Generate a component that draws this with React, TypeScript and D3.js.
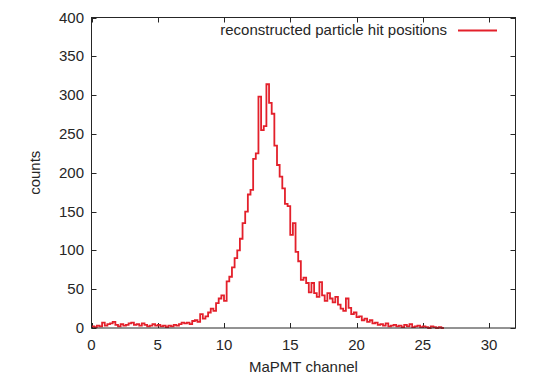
import React from "react";
import * as d3 from "d3";

// histogram bins: start of each bin in MaPMT channel units, width 0.2
const binWidth = 0.2;
const counts = [
  2, 1, 3, 2, 7, 3, 5, 6, 8, 4,
  2, 5, 3, 4, 6, 7, 4, 5, 3, 6,
  4, 2, 3, 5, 3, 4, 2, 3, 1, 3,
  2, 4, 3, 5, 7, 6, 7, 5, 9, 10,
  8, 18, 12, 15, 20, 25, 22, 32, 38, 42,
  35, 60, 66, 78, 90, 100, 115, 135, 150, 172,
  178, 218, 225, 298, 255, 260, 314, 290, 276, 235,
  210, 195, 180, 160, 157, 120, 135, 98, 86, 62,
  65, 58, 46, 58, 45, 40, 59, 42, 35, 45,
  38, 33, 40, 30, 25, 22, 38, 26, 18, 20,
  14, 15, 10, 12, 8, 10, 6, 7, 4, 5,
  3, 6, 2, 3, 4, 2, 3, 1, 4, 2,
  5, 1, 2, 3, 1, 2, 1, 0, 2, 1,
  0, 1, 0,
];

const xTicks = [0, 5, 10, 15, 20, 25, 30];
const yTicks = [0, 50, 100, 150, 200, 250, 300, 350, 400];
const seriesLabel = "reconstructed particle hit positions";
const xTitle = "MaPMT channel";
const yTitle = "counts";

const W = 538;
const H = 377;
const margin = { left: 91.5, right: 22.5, top: 17.5, bottom: 49 };
const font = "'Liberation Sans', Arial, sans-serif";
const ink = "#262626";
const red = "#e3202b";

export default function App() {
  const x = d3.scaleLinear().domain([0, 32]).range([margin.left, W - margin.right]);
  const y = d3.scaleLinear().domain([0, 400]).range([H - margin.bottom, margin.top]);

  const pts: [number, number][] = counts.map((c, i) => [i * binWidth, c]);
  pts.push([counts.length * binWidth, counts[counts.length - 1]]);

  const line = d3
    .line<[number, number]>()
    .x(d => x(d[0]))
    .y(d => y(d[1]))
    .curve(d3.curveStepAfter);

  const tick = 5;
  const [x0, x1] = x.range();
  const [y0, y1] = y.range();

  return (
    <svg width={W} height={H} style={{ position: "absolute", left: 0, top: 0 }}>
      <rect width={W} height={H} fill="#fff" />
      <g stroke={ink} strokeWidth={1}>
        {xTicks.map(t => (
          <g key={"x" + t}>
            <line x1={Math.round(x(t)) + 0.5} x2={Math.round(x(t)) + 0.5} y1={y0} y2={y0 - tick} />
            <line x1={Math.round(x(t)) + 0.5} x2={Math.round(x(t)) + 0.5} y1={y1} y2={y1 + tick} />
          </g>
        ))}
        {yTicks.map(t => (
          <g key={"y" + t}>
            <line x1={x0} x2={x0 + tick} y1={Math.round(y(t)) + 0.5} y2={Math.round(y(t)) + 0.5} />
            <line x1={x1} x2={x1 - tick} y1={Math.round(y(t)) + 0.5} y2={Math.round(y(t)) + 0.5} />
          </g>
        ))}
      </g>
      <path d={line(pts) || ""} fill="none" stroke={red} strokeWidth={1.8} />
      <rect x={x0} y={y1} width={x1 - x0} height={y0 - y1} fill="none" stroke={ink} strokeWidth={1} />
      <g fontFamily={font} fontSize={15} fill={ink}>
        {xTicks.map(t => (
          <text key={"xl" + t} x={x(t)} y={y0 + 22} textAnchor="middle">
            {t}
          </text>
        ))}
        {yTicks.map(t => (
          <text key={"yl" + t} x={84} y={y(t) + 5} textAnchor="end">
            {t}
          </text>
        ))}
        <text x={(x0 + x1) / 2} y={H - 5} textAnchor="middle">
          {xTitle}
        </text>
        <text transform={`translate(40, ${(y0 + y1) / 2}) rotate(-90)`} textAnchor="middle">
          {yTitle}
        </text>
        <text x={447} y={35} textAnchor="end">
          {seriesLabel}
        </text>
      </g>
      <line x1={458} x2={497} y1={30.5} y2={30.5} stroke={red} strokeWidth={1.8} />
    </svg>
  );
}
